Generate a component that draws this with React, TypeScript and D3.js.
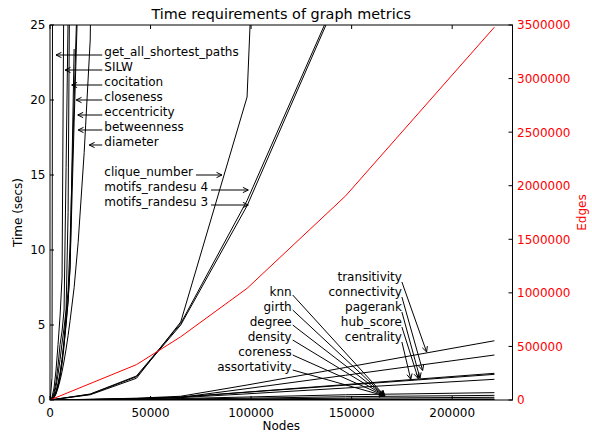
import React from 'react';
import * as d3 from 'd3';

const N = null;

// graph sizes (number of nodes)
const nodes = [100, 1000, 2000, 3000, 4000, 5000, 6000, 7000, 8000, 9000, 10000, 12000, 14000, 17000, 20000, 43000, 65000, 98000, 147000, 221000];

// edges (right axis)
const edges = [700, N, N, N, N, N, N, N, N, N, N, N, N, N, N, 330000, 590000, 1042000, 1905000, 3480000];

// time in seconds per metric (null = not measured)
const shortestPathsTime = [0, 1.5, 100, N, N, N, N, N, N, N, N, N, N, N, N, N, N, N, N, N];
const silwTime = [0, 0.2, 0.8, 2.0, 3.7, 5.6, 8.2, 30, N, N, N, N, N, N, N, N, N, N, N, N];
const cocitationTime = [0, 0.1, 0.5, 1.2, 2.3, 3.7, 4.6, 6.0, 15.5, 25.5, 40, N, N, N, N, N, N, N, N, N];
const closenessTime = [0, 0.08, 0.35, 0.9, 1.7, 2.7, 3.8, 4.8, 6.0, 12.5, 33, N, N, N, N, N, N, N, N, N];
const eccentricityTime = [0, 0.05, 0.25, 0.6, 1.1, 1.8, 2.7, 3.8, 5.0, 6.6, 8.8, 23.4, N, N, N, N, N, N, N, N];
const betweennessTime = [0, 0.05, 0.2, 0.5, 1.0, 1.7, 2.7, 4.0, 5.8, 7.3, 10.5, 20, 29, N, N, N, N, N, N, N];
const unlabeledTime = [0, 0.04, 0.18, 0.45, 0.9, 1.5, 2.4, 3.6, 5.2, 6.6, 9.0, 18.5, 27.5, N, N, N, N, N, N, N];
const diameterTime = [0, 0.03, 0.15, 0.4, 0.8, 1.3, 1.9, 2.6, 3.4, 4.3, 5.3, 7.5, 10.5, 16.5, 24.0, 250, N, N, N, N];
const cliqueTime = [0, N, N, N, N, N, N, N, N, N, N, N, N, N, 0.35, 1.45, 5.2, 20.2, 178, N];
const motifs4Time = [0, N, N, N, N, N, N, N, N, N, N, N, N, N, 0.4, 1.6, 5.1, 13.3, 28.2, N];
const motifs3Time = [0, N, N, N, N, N, N, N, N, N, N, N, N, N, 0.38, 1.55, 5.0, 12.95, 28.0, N];
const transitivityTime = [0, N, N, N, N, N, N, N, N, N, N, N, N, N, 0.05, 0.12, 0.25, 1.0, 2.17, 3.95];
const connectivityTime = [0, N, N, N, N, N, N, N, N, N, N, N, N, N, 0.04, 0.1, 0.18, 0.76, 1.65, 3.0];
const pagerankTime = [0, N, N, N, N, N, N, N, N, N, N, N, N, N, 0.03, 0.08, 0.2, 0.53, 1.03, 1.78];
const hubScoreTime = [0, N, N, N, N, N, N, N, N, N, N, N, N, N, 0.03, 0.08, 0.19, 0.52, 0.99, 1.71];
const centralityTime = [0, N, N, N, N, N, N, N, N, N, N, N, N, N, 0.02, 0.07, 0.16, 0.41, 0.8, 1.38];
const knnTime = [0, N, N, N, N, N, N, N, N, N, N, N, N, N, 0.01, 0.05, 0.1, 0.2, 0.35, 0.49];
const girthTime = [0, N, N, N, N, N, N, N, N, N, N, N, N, N, 0.01, 0.03, 0.06, 0.12, 0.22, 0.31];
const degreeTime = [0, N, N, N, N, N, N, N, N, N, N, N, N, N, 0.01, 0.02, 0.04, 0.07, 0.12, 0.18];
const densityTime = [0, N, N, N, N, N, N, N, N, N, N, N, N, N, 0, 0.01, 0.02, 0.03, 0.05, 0.07];
const corenessTime = [0, N, N, N, N, N, N, N, N, N, N, N, N, N, 0, 0, 0.01, 0.01, 0.02, 0.03];
const assortativityTime = [0, N, N, N, N, N, N, N, N, N, N, N, N, N, 0, 0, 0, 0.005, 0.01, 0.01];

const blackSeries = [
  shortestPathsTime, silwTime, cocitationTime, closenessTime, eccentricityTime, betweennessTime,
  unlabeledTime, diameterTime, cliqueTime, motifs4Time, motifs3Time, transitivityTime, connectivityTime,
  pagerankTime, hubScoreTime, centralityTime, knnTime, girthTime, degreeTime, densityTime, corenessTime,
  assortativityTime,
];

// annotations: labels left-aligned at the top left
const topLabels = ['get_all_shortest_paths', 'SILW', 'cocitation', 'closeness', 'eccentricity', 'betweenness', 'diameter', 'clique_number', 'motifs_randesu 4', 'motifs_randesu 3'];
const topLabelX = 27000;
const topLabelY = [23, 22, 21, 20, 19, 18, 17, 15, 14, 13];
const topTipX = [3000, 7500, 10800, 13000, 13800, 14000, 19500, 85500, 98600, 98600];
const topTipY = [23, 22, 21, 20, 19, 18, 17, 15, 14, 13];

// annotations: right-aligned labels, lower middle
const midLabels = ['knn', 'girth', 'degree', 'density', 'coreness', 'assortativity'];
const midLabelX = 120200;
const midLabelY = [7, 6, 5, 4, 3, 2];
const midTipX = [166500, 166500, 166500, 166500, 166500, 166500];
const midTipY = [0.27, 0.27, 0.27, 0.27, 0.27, 0.27];

// annotations: right-aligned labels, lower right
const rightLabels = ['transitivity', 'connectivity', 'pagerank', 'hub_score', 'centrality'];
const rightLabelX = 175000;
const rightLabelY = [8, 7, 6, 5, 4];
const rightTipX = [187300, 185300, 184000, 183100, 179400];
const rightTipY = [3.2, 1.97, 1.45, 1.43, 1.38];

const xTicks = [0, 50000, 100000, 150000, 200000];
const yTicks = [0, 5, 10, 15, 20, 25];
const yRTicks = [0, 500000, 1000000, 1500000, 2000000, 2500000, 3000000, 3500000];

const W = 592, H = 434;
const L = 50, R = 512.5, T = 25, B = 400;
const FONT = '"DejaVu Sans", sans-serif';

let ctx: CanvasRenderingContext2D | null = null;
function measure(text: string, size = 12) {
  if (!ctx) ctx = document.createElement('canvas').getContext('2d');
  if (!ctx) return text.length * size * 0.6;
  ctx.font = `${size}px "DejaVu Sans"`;
  return ctx.measureText(text).width;
}

function Arrow({ x1, y1, x2, y2 }: { x1: number; y1: number; x2: number; y2: number }) {
  const a = Math.atan2(y2 - y1, x2 - x1);
  const hl = 6, phi = (26 * Math.PI) / 180;
  const p1 = [x2 - hl * Math.cos(a - phi), y2 - hl * Math.sin(a - phi)];
  const p2 = [x2 - hl * Math.cos(a + phi), y2 - hl * Math.sin(a + phi)];
  return (
    <g fill="none" stroke="#000" strokeWidth={1}>
      <line x1={x1} y1={y1} x2={x2} y2={y2} />
      <path d={`M${p1[0]},${p1[1]}L${x2},${y2}L${p2[0]},${p2[1]}`} />
    </g>
  );
}

export default function App() {
  const x = d3.scaleLinear().domain([0, 230000]).range([L, R]);
  const y = d3.scaleLinear().domain([0, 25]).range([B, T]);
  const yR = d3.scaleLinear().domain([0, 3500000]).range([B, T]);

  const toPts = (vals: (number | null)[]) =>
    nodes.map((n, i) => [n, vals[i]] as [number, number | null]).filter((d) => d[1] !== null) as [number, number][];

  const lineL = d3.line<[number, number]>().x((d) => x(d[0])).y((d) => y(d[1]));
  const lineR = d3.line<[number, number]>().x((d) => x(d[0])).y((d) => yR(d[1]));

  return (
    <svg width={W} height={H} style={{ position: 'absolute', left: 0, top: 0, background: '#fff' }} fontFamily={FONT}>
      <rect x={0} y={0} width={W} height={H} fill="#fff" />
      <defs>
        <clipPath id="plotclip">
          <rect x={L} y={T} width={R - L} height={B - T} />
        </clipPath>
      </defs>

      <g clipPath="url(#plotclip)" fill="none">
        {blackSeries.map((s, i) => (
          <path key={i} d={lineL(toPts(s)) || ''} stroke="#000" strokeWidth={1} />
        ))}
        <path d={lineR(toPts(edges)) || ''} stroke="#ff0000" strokeWidth={1} />
      </g>

      {/* annotations */}
      {topLabels.map((t, i) => {
        const tx = x(topLabelX);
        const by = y(topLabelY[i]) + 1;
        const tipX = x(topTipX[i]);
        const tipY = y(topTipY[i]);
        const w = measure(t);
        const sx = tipX < tx ? tx - 2 : tx + w + 3;
        return (
          <g key={'tl' + i}>
            <text x={tx} y={by} fontSize={12} fill="#000">{t}</text>
            <Arrow x1={sx} y1={by - 1} x2={tipX} y2={tipY} />
          </g>
        );
      })}
      {midLabels.map((t, i) => {
        const tx = x(midLabelX);
        const by = y(midLabelY[i]) + 1;
        return (
          <g key={'ml' + i}>
            <text x={tx} y={by} fontSize={12} textAnchor="end" fill="#000">{t}</text>
            <Arrow x1={tx + 1} y1={by - 1} x2={x(midTipX[i])} y2={y(midTipY[i])} />
          </g>
        );
      })}
      {rightLabels.map((t, i) => {
        const tx = x(rightLabelX);
        const by = y(rightLabelY[i]) + 1;
        return (
          <g key={'rl' + i}>
            <text x={tx} y={by} fontSize={12} textAnchor="end" fill="#000">{t}</text>
            <Arrow x1={tx} y1={by + 1} x2={x(rightTipX[i])} y2={y(rightTipY[i])} />
          </g>
        );
      })}

      {/* frame */}
      <rect x={L} y={T} width={R - L} height={B - T} fill="none" stroke="#000" strokeWidth={1} />

      {/* ticks */}
      {xTicks.map((v) => (
        <g key={'xt' + v}>
          <line x1={x(v)} x2={x(v)} y1={B} y2={B - 4} stroke="#000" />
          <line x1={x(v)} x2={x(v)} y1={T} y2={T + 4} stroke="#000" />
          <text x={x(v)} y={417} fontSize={12} textAnchor="middle" fill="#000">{v}</text>
        </g>
      ))}
      {yTicks.map((v) => (
        <g key={'yt' + v}>
          <line x1={L} x2={L + 4} y1={y(v)} y2={y(v)} stroke="#000" />
          <text x={45.5} y={y(v) + 4.4} fontSize={12} textAnchor="end" fill="#000">{v}</text>
        </g>
      ))}
      {yRTicks.map((v) => (
        <g key={'yr' + v}>
          <line x1={R} x2={R - 4} y1={yR(v)} y2={yR(v)} stroke="#000" />
          <text x={517} y={yR(v) + 4.4} fontSize={12} textAnchor="start" fill="#ff0000">{v}</text>
        </g>
      ))}

      {/* axis titles */}
      <text x={(L + R) / 2} y={19} fontSize={14.4} textAnchor="middle" fill="#000">Time requirements of graph metrics</text>
      <text x={(L + R) / 2} y={430} fontSize={12} textAnchor="middle" fill="#000">Nodes</text>
      <text transform={`translate(22,${(T + B) / 2}) rotate(-90)`} fontSize={12} textAnchor="middle" fill="#000">Time (secs)</text>
      <text transform={`translate(586,${(T + B) / 2}) rotate(-90)`} fontSize={12} textAnchor="middle" fill="#ff0000">Edges</text>
    </svg>
  );
}
